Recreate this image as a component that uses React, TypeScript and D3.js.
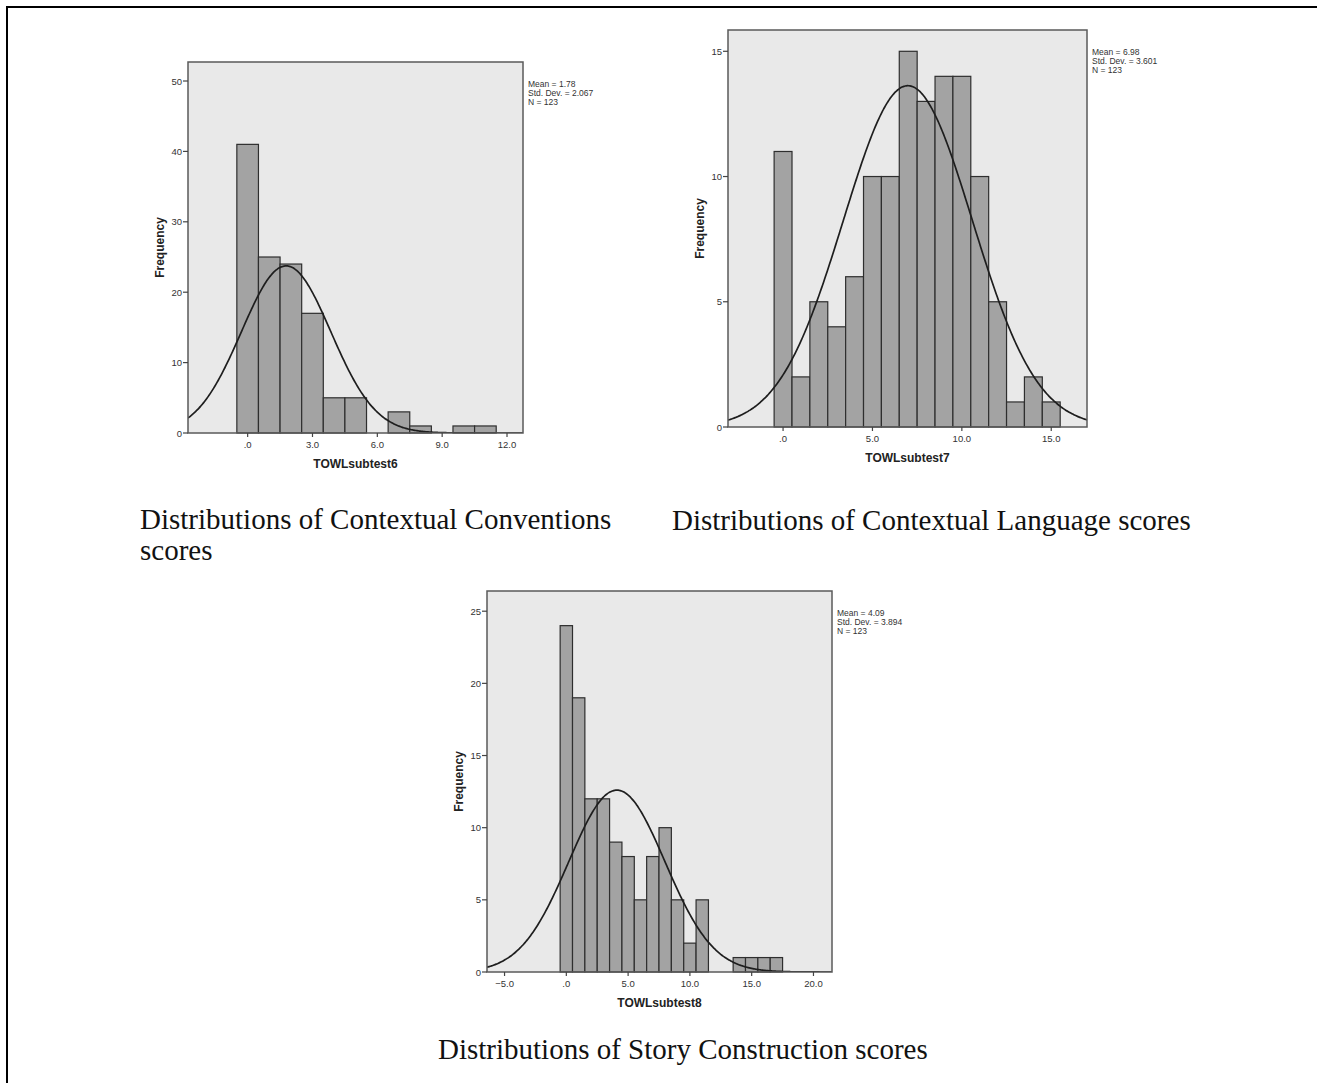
import React from 'react';
import * as d3 from 'd3';

// counts per integer score bin (bin i covers i-0.5 .. i+0.5)
const subtest6Counts = [41, 25, 24, 17, 5, 5, 0, 3, 1, 0, 1, 1];
const subtest7Counts = [11, 2, 5, 4, 6, 10, 10, 15, 13, 14, 14, 10, 5, 1, 2, 1];
const subtest8Counts = [24, 19, 12, 12, 9, 8, 5, 8, 10, 5, 2, 5, 0, 0, 1, 1, 1, 1];

const subtest6Stats = { mean: 1.78, sd: 2.067, n: 123, sdLabel: '2.067' };
const subtest7Stats = { mean: 6.98, sd: 3.601, n: 123, sdLabel: '3.601' };
const subtest8Stats = { mean: 4.09, sd: 3.894, n: 123, sdLabel: '3.894' };

const subtest6XTicks = [0, 3, 6, 9, 12];
const subtest7XTicks = [0, 5, 10, 15];
const subtest8XTicks = [-5, 0, 5, 10, 15, 20];

const subtest6YTicks = [0, 10, 20, 30, 40, 50];
const subtest7YTicks = [0, 5, 10, 15];
const subtest8YTicks = [0, 5, 10, 15, 20, 25];

const captions = [
  ['Distributions of Contextual Conventions', 'scores'],
  ['Distributions of Contextual Language scores'],
  ['Distributions of Story Construction scores'],
];

const sans = '"Liberation Sans", Arial, sans-serif';
const serif = '"Liberation Serif", "Times New Roman", serif';

// SPSS style: 0 -> ".0", 3 -> "3.0"
const fmtTick = (v: number) => {
  const s = d3.format('.1f')(v);
  return s === '0.0' ? '.0' : s;
};

type HistProps = {
  id: string;
  frame: { left: number; top: number; right: number; bottom: number };
  xDomain: [number, number];
  yMax: number;
  counts: number[];
  xTicks: number[];
  yTicks: number[];
  stats: { mean: number; sd: number; n: number; sdLabel: string };
  xLabel: string;
};

const Histogram = ({ id, frame, xDomain, yMax, counts, xTicks, yTicks, stats, xLabel }: HistProps) => {
  const x = d3.scaleLinear().domain(xDomain).range([frame.left, frame.right]);
  const y = d3.scaleLinear().domain([0, yMax]).range([frame.bottom, frame.top]);

  // expected frequency curve: N * binWidth * normal pdf
  const pdf = (v: number) =>
    (stats.n / (stats.sd * Math.sqrt(2 * Math.PI))) * Math.exp(-0.5 * ((v - stats.mean) / stats.sd) ** 2);
  const samples = d3.range(xDomain[0], xDomain[1] + 0.01, (xDomain[1] - xDomain[0]) / 300);
  const curve = d3
    .line<number>()
    .x(v => x(v))
    .y(v => y(pdf(v)))
    .curve(d3.curveBasis)(samples);

  const midX = (frame.left + frame.right) / 2;
  const midY = (frame.top + frame.bottom) / 2;

  return (
    <g>
      <defs>
        <clipPath id={`clip-${id}`}>
          <rect x={frame.left} y={frame.top} width={frame.right - frame.left} height={frame.bottom - frame.top} />
        </clipPath>
      </defs>
      <rect
        x={frame.left}
        y={frame.top}
        width={frame.right - frame.left}
        height={frame.bottom - frame.top}
        fill="#e9e9e9"
      />
      {counts.map((c, i) =>
        c > 0 ? (
          <rect
            key={i}
            x={x(i - 0.5)}
            y={y(c)}
            width={x(i + 0.5) - x(i - 0.5)}
            height={y(0) - y(c)}
            fill="#a3a3a3"
            stroke="#2e2e2e"
            strokeWidth={1.2}
          />
        ) : null
      )}
      <path d={curve || ''} fill="none" stroke="#1e1e1e" strokeWidth={1.7} clipPath={`url(#clip-${id})`} />
      <rect
        x={frame.left}
        y={frame.top}
        width={frame.right - frame.left}
        height={frame.bottom - frame.top}
        fill="none"
        stroke="#5a5a5a"
        strokeWidth={1.5}
      />
      {yTicks.map(t => (
        <g key={`y${t}`}>
          <line x1={frame.left - 5} x2={frame.left} y1={y(t)} y2={y(t)} stroke="#444" strokeWidth={1.2} />
          <text x={frame.left - 6} y={y(t) + 3.5} fontSize={9.5} fontFamily={sans} fill="#333" textAnchor="end">
            {t}
          </text>
        </g>
      ))}
      {xTicks.map(t => (
        <g key={`x${t}`}>
          <line x1={x(t)} x2={x(t)} y1={frame.bottom} y2={frame.bottom + 4} stroke="#444" strokeWidth={1.2} />
          <text x={x(t)} y={frame.bottom + 15} fontSize={9.5} fontFamily={sans} fill="#333" textAnchor="middle">
            {fmtTick(t)}
          </text>
        </g>
      ))}
      <text x={midX} y={frame.bottom + 35} fontSize={12} fontWeight="bold" fontFamily={sans} fill="#222" textAnchor="middle">
        {xLabel}
      </text>
      <text
        transform={`translate(${frame.left - 24},${midY}) rotate(-90)`}
        fontSize={12}
        fontWeight="bold"
        fontFamily={sans}
        fill="#222"
        textAnchor="middle"
      >
        Frequency
      </text>
      <g fontSize={8.5} fontFamily={sans} fill="#333">
        <text x={frame.right + 5} y={frame.top + 25}>{`Mean = ${stats.mean}`}</text>
        <text x={frame.right + 5} y={frame.top + 34}>{`Std. Dev. = ${stats.sdLabel}`}</text>
        <text x={frame.right + 5} y={frame.top + 43}>{`N = ${stats.n}`}</text>
      </g>
    </g>
  );
};

const App = () => {
  return (
    <svg
      width={1317}
      height={1083}
      style={{ position: 'absolute', left: 0, top: 0, background: '#fff' }}
    >
      <line x1={6} x2={1317} y1={7} y2={7} stroke="#000" strokeWidth={2} />
      <line x1={7} x2={7} y1={6} y2={1083} stroke="#000" strokeWidth={2} />

      <Histogram
        id="s6"
        frame={{ left: 188, top: 62, right: 523, bottom: 433 }}
        xDomain={[-2.76, 12.74]}
        yMax={52.7}
        counts={subtest6Counts}
        xTicks={subtest6XTicks}
        yTicks={subtest6YTicks}
        stats={subtest6Stats}
        xLabel="TOWLsubtest6"
      />
      <Histogram
        id="s7"
        frame={{ left: 728, top: 30, right: 1087, bottom: 427 }}
        xDomain={[-3.08, 17.0]}
        yMax={15.85}
        counts={subtest7Counts}
        xTicks={subtest7XTicks}
        yTicks={subtest7YTicks}
        stats={subtest7Stats}
        xLabel="TOWLsubtest7"
      />
      <Histogram
        id="s8"
        frame={{ left: 487, top: 591, right: 832, bottom: 972 }}
        xDomain={[-6.42, 21.5]}
        yMax={26.4}
        counts={subtest8Counts}
        xTicks={subtest8XTicks}
        yTicks={subtest8YTicks}
        stats={subtest8Stats}
        xLabel="TOWLsubtest8"
      />

      <g fontFamily={serif} fontSize={29} fill="#111">
        <text x={140} y={529}>{captions[0][0]}</text>
        <text x={140} y={560}>{captions[0][1]}</text>
        <text x={672} y={530}>{captions[1][0]}</text>
        <text x={438} y={1059}>{captions[2][0]}</text>
      </g>
    </svg>
  );
};

export default App;
